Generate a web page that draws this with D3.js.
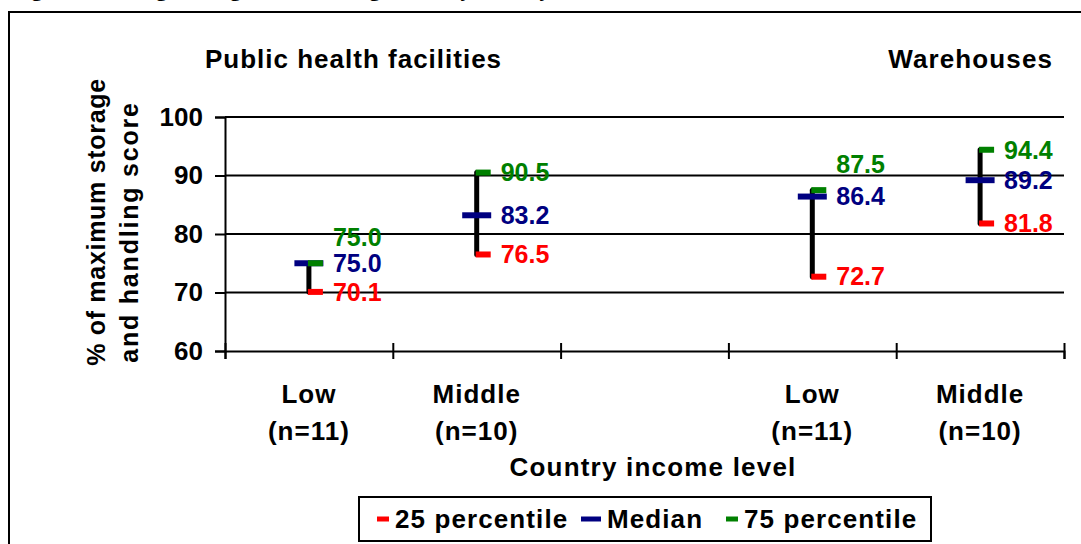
<!DOCTYPE html>
<html>
<head>
<meta charset="utf-8">
<title>Storage and handling score by country income level</title>
<script src="https://d3js.org/d3.v7.min.js"></script>
<style>
  body { margin: 0; background: #fff; }
  svg { display: block; }
  text { font-family: "Liberation Sans", Arial, sans-serif; font-weight: bold; }
</style>
</head>
<body>
<script>

// data
var groups = ["Public health facilities", "Warehouses"];
var slots = ["phf-low", "phf-middle", "gap", "wh-low", "wh-middle"];
var incomeLabels = ["Low", "Middle", "", "Low", "Middle"];
var nLabels = ["(n=11)", "(n=10)", "", "(n=11)", "(n=10)"];
var p25 = [70.1, 76.5, null, 72.7, 81.8];
var median = [75.0, 83.2, null, 86.4, 89.2];
var p75 = [75.0, 90.5, null, 87.5, 94.4];
var yTicks = [60, 70, 80, 90, 100];
var legendItems = ["25 percentile", "Median", "75 percentile"];

var W = 1081, H = 544;
var red = "#ff0000", navy = "#000080", green = "#008000";

var svg = d3.select("body").append("svg")
    .attr("width", W)
    .attr("height", H);

// figure caption, cut off above the frame like in the source page
svg.append("text")
    .attr("x", 12)
    .attr("y", -4)
    .style("font-family", "'Liberation Serif', serif")
    .style("font-size", "22px")
    .text("Figure 3. Average storage and handling scores by country income level");

// outer frame
svg.append("rect")
    .attr("x", 9)
    .attr("y", 12)
    .attr("width", W + 10)
    .attr("height", H + 10)
    .attr("fill", "none")
    .attr("stroke", "#000")
    .attr("stroke-width", 2);

// scales
var x = d3.scaleLinear().domain([0, slots.length]).range([225, 1064]);
var y = d3.scaleLinear().domain([60, 100]).range([351, 117]);
function cx(i) { return x(i + 0.5); }

// gridlines
svg.append("g")
    .selectAll("line")
    .data(yTicks.slice(1))
  .enter().append("line")
    .attr("x1", x(0))
    .attr("x2", x(slots.length))
    .attr("y1", function(d) { return y(d); })
    .attr("y2", function(d) { return y(d); })
    .attr("stroke", "#000")
    .attr("stroke-width", 2);

// y axis
var yAxis = svg.append("g")
    .attr("transform", "translate(" + x(0) + ",0)")
    .call(d3.axisLeft(y).tickValues(yTicks).tickSize(10).tickPadding(12).tickFormat(d3.format("d")));
yAxis.select(".domain").attr("stroke-width", 2);
yAxis.selectAll(".tick line").attr("stroke-width", 2);
yAxis.selectAll("text")
    .style("font-size", "26px")
    .attr("fill", "#000");

// x axis (ticks at category boundaries, crossing the line)
var xAxis = svg.append("g")
    .attr("transform", "translate(0," + y(60) + ")")
    .call(d3.axisBottom(x).tickValues(d3.range(slots.length + 1)).tickSize(8).tickFormat(""));
xAxis.select(".domain").attr("stroke-width", 2);
xAxis.selectAll(".tick line").attr("y1", -8).attr("stroke-width", 2);

// category labels
var catG = svg.append("g").attr("text-anchor", "middle").style("font-size", "26px").style("letter-spacing", "1px");
catG.selectAll("text.inc")
    .data(incomeLabels)
  .enter().append("text")
    .attr("class", "inc")
    .attr("x", function(d, i) { return cx(i); })
    .attr("y", 403)
    .text(function(d) { return d; });
catG.selectAll("text.n")
    .data(nLabels)
  .enter().append("text")
    .attr("class", "n")
    .attr("x", function(d, i) { return cx(i); })
    .attr("y", 440)
    .text(function(d) { return d; });

// x title
svg.append("text")
    .attr("x", 653)
    .attr("y", 476)
    .attr("text-anchor", "middle")
    .style("font-size", "26px")
    .style("letter-spacing", "1.2px")
    .text("Country income level");

// y title
var yt = svg.append("text")
    .attr("transform", "translate(105,222) rotate(-90)")
    .attr("text-anchor", "middle")
    .style("font-size", "25px")
    .style("letter-spacing", "0.7px");
yt.append("tspan").attr("x", 0).attr("y", 0).text("% of maximum storage");
yt.append("tspan").attr("x", -10).attr("y", 33).style("letter-spacing", "1.8px").text("and handling score");

// group titles
svg.append("text")
    .attr("x", 205)
    .attr("y", 68)
    .style("font-size", "26px")
    .style("letter-spacing", "1px")
    .text(groups[0]);
svg.append("text")
    .attr("x", 1053)
    .attr("y", 68)
    .attr("text-anchor", "end")
    .style("font-size", "26px")
    .style("letter-spacing", "1.1px")
    .text(groups[1]);

// range markers
var idx = d3.range(slots.length).filter(function(i) { return median[i] != null; });

var marks = svg.append("g");
marks.selectAll("line.range")
    .data(idx)
  .enter().append("line")
    .attr("x1", function(i) { return cx(i); })
    .attr("x2", function(i) { return cx(i); })
    .attr("y1", function(i) { return y(p25[i]); })
    .attr("y2", function(i) { return y(p75[i]); })
    .attr("stroke", "#000")
    .attr("stroke-width", 5)
    .attr("stroke-linecap", "round");

marks.selectAll("line.med")
    .data(idx)
  .enter().append("line")
    .attr("x1", function(i) { return cx(i) - 14.5; })
    .attr("x2", function(i) { return cx(i) + 14.5; })
    .attr("y1", function(i) { return y(median[i]); })
    .attr("y2", function(i) { return y(median[i]); })
    .attr("stroke", navy)
    .attr("stroke-width", 6);

[[p75, green], [p25, red]].forEach(function(s) {
  marks.selectAll(null)
      .data(idx)
    .enter().append("line")
      .attr("x1", function(i) { return cx(i) - 1; })
      .attr("x2", function(i) { return cx(i) + 14; })
      .attr("y1", function(i) { return y(s[0][i]); })
      .attr("y2", function(i) { return y(s[0][i]); })
      .attr("stroke", s[1])
      .attr("stroke-width", 6);
});

// value labels
var fmt = d3.format(".1f");
function labelY(arr, i) {
  var yy = y(arr[i]);
  // 75th label gets pushed up when it would sit on the median label
  if (arr === p75 && y(median[i]) - yy < 20) yy -= 26;
  return yy;
}
[[p75, green], [median, navy], [p25, red]].forEach(function(s) {
  svg.append("g").selectAll("text")
      .data(idx)
    .enter().append("text")
      .attr("x", function(i) { return cx(i) + 24; })
      .attr("y", function(i) { return labelY(s[0], i); })
      .attr("dy", "0.35em")
      .attr("fill", s[1])
      .style("font-size", "25px")
      .text(function(i) { return fmt(s[0][i]); });
});

// legend
var lg = svg.append("g");
lg.append("rect")
    .attr("x", 359)
    .attr("y", 497)
    .attr("width", 572)
    .attr("height", 44)
    .attr("fill", "#fff")
    .attr("stroke", "#000")
    .attr("stroke-width", 2);
var legendColors = [red, navy, green];
var legendX = [377, 581, 726];
var legendW = [12, 20, 12];
legendItems.forEach(function(t, k) {
  lg.append("line")
      .attr("x1", legendX[k])
      .attr("x2", legendX[k] + legendW[k])
      .attr("y1", 519)
      .attr("y2", 519)
      .attr("stroke", legendColors[k])
      .attr("stroke-width", 5);
  lg.append("text")
      .attr("x", legendX[k] + legendW[k] + 6)
      .attr("y", 528)
      .style("font-size", "26px")
      .style("letter-spacing", "1.1px")
      .text(t);
});

</script>
</body>
</html>
